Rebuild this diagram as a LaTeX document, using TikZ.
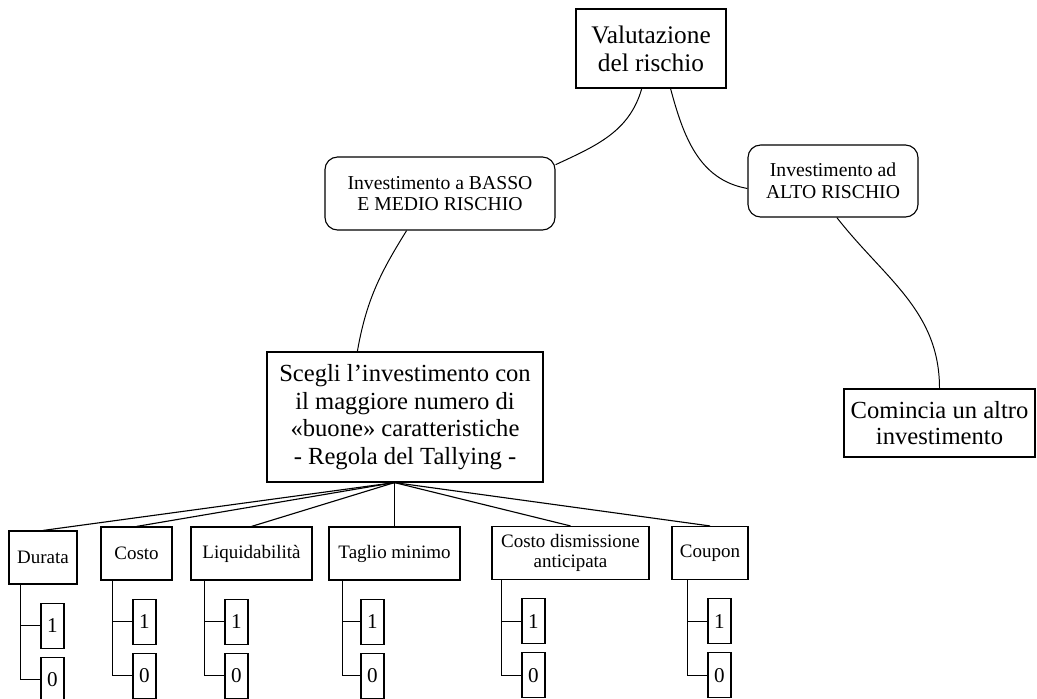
\documentclass[tikz,border=0pt]{standalone}
\usepackage{fontspec}
\setmainfont{Liberation Serif}
\usepackage{tikz}
\usetikzlibrary{positioning,calc}

\begin{document}
\begin{tikzpicture}[
  x=0.025cm,y=0.025cm,
  node distance=0.2cm,
  box/.style={draw,line width=0.8pt,align=center,inner sep=2pt},
  rbox/.style={box,rounded corners=9pt,font=\fontsize{14}{15.5}\selectfont},
  big/.style={box,font=\fontsize{17.5}{19}\selectfont},
  crit/.style={box,minimum height=1.325cm,font=\fontsize{13.5}{14}\selectfont},
  bit/.style={box,minimum width=0.575cm,minimum height=1.125cm,inner sep=0pt,font=\fontsize{15}{15}\selectfont},
  link/.style={line width=0.7pt}
]
\useasboundingbox (0,0) rectangle (1037,-698);

% decision levels
\node[big,minimum width=3.75cm,minimum height=1.975cm,font=\fontsize{18}{20}\selectfont] (val) at (651,-48.5) {Valutazione\\del rischio};
\node[rbox,minimum width=5.75cm,minimum height=1.825cm] (basso) at (440,-193.5) {Investimento a BASSO\\E MEDIO RISCHIO};
\node[rbox,minimum width=4.25cm,minimum height=1.8cm] (alto) at (833,-181) {Investimento ad\\ALTO RISCHIO};
\node[big,minimum width=6.9cm,minimum height=3.25cm,font=\fontsize{17.5}{19.5}\selectfont] (scegli) at (405,-417) {Scegli l’investimento con\\il maggiore numero di\\«buone» caratteristiche\\- Regola del Tallying -};
\node[big,minimum width=4.775cm,minimum height=1.7cm] (comincia) at (939.5,-423) {Comincia un altro\\investimento};

\draw[link] (val.-103) to[out=-106,in=25] (basso.14);
\draw[link] (val.-64) to[out=-75,in=170] (alto.185);
\draw[link] (basso.-132) to[out=-122,in=80] (scegli.126);
\draw[link] (alto.-84) to[out=-52,in=90] (comincia.north);

% characteristics
\node[crit,minimum width=1.7cm] (durata) at (43,-557.5) {Durata};
\node[crit,minimum width=1.775cm] (costo) at (136.5,-553.5) {Costo};
\node[crit,minimum width=3.025cm] (liquid) at (251.5,-553.5) {Liquidabilità};
\node[crit,minimum width=3.275cm] (taglio) at (394.5,-553.5) {Taglio minimo};
\node[crit,minimum width=3.925cm] (dism) at (570.5,-553) {Costo dismissione\\anticipata};
\node[crit,minimum width=1.9cm] (coupon) at (710,-553) {Coupon};

\coordinate (fan) at (scegli.south -| taglio.north);
\draw[line width=0.8pt] (fan) -- (durata.north);
\draw[line width=0.8pt] (fan) -- (costo.north);
\draw[line width=0.8pt] (fan) -- (liquid.north);
\draw[line width=0.8pt] (fan) -- (taglio.north);
\draw[line width=0.8pt] (fan) -- (dism.north);
\draw[line width=0.8pt] (fan) -- (coupon.north);

% yes / no values
\node[bit,below right=0.45cm and 0.8cm of durata.south west] (durata1) {1};
\node[bit,below=of durata1] (durata0) {0};
\node[bit,below right=0.45cm and 0.8cm of costo.south west] (costo1) {1};
\node[bit,below=of costo1] (costo0) {0};
\node[bit,below right=0.45cm and 0.85cm of liquid.south west] (liquid1) {1};
\node[bit,below=of liquid1] (liquid0) {0};
\node[bit,below right=0.45cm and 0.8cm of taglio.south west] (taglio1) {1};
\node[bit,below=of taglio1] (taglio0) {0};
\node[bit,below right=0.45cm and 0.75cm of dism.south west] (dism1) {1};
\node[bit,below=of dism1] (dism0) {0};
\node[bit,below right=0.45cm and 0.9cm of coupon.south west] (coupon1) {1};
\node[bit,below=of coupon1] (coupon0) {0};

\draw[link] ([xshift=0.3cm]durata.south west) |- (durata1.west) ([xshift=0.3cm]durata.south west) |- (durata0.west);
\draw[link] ([xshift=0.3cm]costo.south west) |- (costo1.west) ([xshift=0.3cm]costo.south west) |- (costo0.west);
\draw[link] ([xshift=0.35cm]liquid.south west) |- (liquid1.west) ([xshift=0.35cm]liquid.south west) |- (liquid0.west);
\draw[link] ([xshift=0.35cm]taglio.south west) |- (taglio1.west) ([xshift=0.35cm]taglio.south west) |- (taglio0.west);
\draw[link] ([xshift=0.25cm]dism.south west) |- (dism1.west) ([xshift=0.25cm]dism.south west) |- (dism0.west);
\draw[link] ([xshift=0.4cm]coupon.south west) |- (coupon1.west) ([xshift=0.4cm]coupon.south west) |- (coupon0.west);
\end{tikzpicture}
\end{document}
